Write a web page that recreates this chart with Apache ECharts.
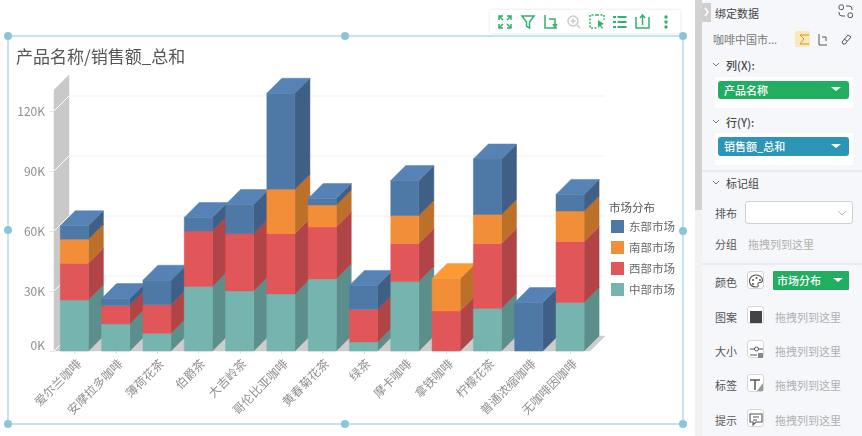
<!DOCTYPE html>
<html>
<head>
<meta charset="utf-8">
<title>产品名称/销售额_总和</title>
<script src="https://cdn.jsdelivr.net/npm/echarts@6/dist/echarts.min.js"></script>
<style>
  html, body { margin: 0; padding: 0; background: #fff; overflow: hidden; }
  body { width: 862px; height: 436px; position: relative; font-family: "Noto Sans CJK SC", "Noto Sans", sans-serif; }
  #chart { position: absolute; left: 0; top: 0; width: 700px; height: 436px; }
  #overlay { position: absolute; left: 0; top: 0; width: 862px; height: 436px; pointer-events: none; }
  #toolbar { position: absolute; left: 490px; top: 10px; width: 190px; height: 23px; background: #fff; box-shadow: 0 0 3px rgba(0,0,0,.12); }
  #scroll { position: absolute; left: 695px; top: 0; width: 7px; height: 436px; background: #f2f2f2; }
  #thumb { position: absolute; left: 0; top: 0; width: 7px; height: 210px; background: #d2d2d2; }
  #panel { position: absolute; left: 702px; top: 0; width: 160px; height: 436px; background: #f6f7fb; font-size: 11px; color: #555; }
  #panel .t { position: absolute; line-height: 14px; white-space: nowrap; }
  #panel .b { font-weight: 500; color: #444; }
  #panel .hint { color: #b0b0b0; }
  #panel .row { position: absolute; left: 13px; width: 138px; background: #fff; }
  #panel .pill { position: absolute; color: #fff; font-weight: 500; line-height: 18px; padding-left: 6px; box-sizing: border-box; border-radius: 3px; }
  #panel .sep { position: absolute; left: 0; width: 160px; height: 2px; background: #ebebef; }
  #panel .box { position: absolute; left: 45px; width: 17px; height: 18px; background: #fff; border: 1px solid #d5d5d5; border-radius: 3px; box-sizing: border-box; }
</style>
</head>
<body>
<div id="chart"></div>
<div id="toolbar"></div>
<div id="scroll"><div id="thumb"></div></div>
<div id="panel">
  <div class="t" style="left:13px;top:6px;color:#444">绑定数据</div>
  <div class="t" style="left:11px;top:32px;color:#777">咖啡中国市...</div>
  <div style="position:absolute;left:93px;top:31px;width:15px;height:16px;background:#fbe8b6;border-radius:2px"></div>
  <div class="t b" style="left:24px;top:58px">列(X):</div>
  <div class="row" style="top:77px;height:31px"></div>
  <div class="pill" style="left:16px;top:81px;width:131px;height:18px;background:#22ae60">产品名称</div>
  <div class="t b" style="left:24px;top:115px">行(Y):</div>
  <div class="row" style="top:133px;height:32px"></div>
  <div class="pill" style="left:16px;top:137px;width:131px;height:19px;background:#2b96b7">销售额_总和</div>
  <div class="sep" style="top:170px"></div>
  <div class="t" style="left:24px;top:176px;color:#444">标记组</div>
  <div class="t" style="left:13px;top:206px">排布</div>
  <div style="position:absolute;left:43px;top:201px;width:108px;height:23px;background:#fff;border:1px solid #d0d0d0;border-radius:3px;box-sizing:border-box"></div>
  <div class="t" style="left:13px;top:237px">分组</div>
  <div class="t hint" style="left:46px;top:237px">拖拽列到这里</div>
  <div class="sep" style="top:263px"></div>
  <div class="t" style="left:13px;top:275px">颜色</div>
  <div class="box" style="top:271px"></div>
  <div class="pill" style="left:71px;top:271px;width:76px;height:19px;background:#22ae60;border-radius:1px;padding-left:4px">市场分布</div>
  <div class="t" style="left:13px;top:310px">图案</div>
  <div class="box" style="top:306px"></div>
  <div class="t hint" style="left:73px;top:310px">拖拽列到这里</div>
  <div class="t" style="left:13px;top:344px">大小</div>
  <div class="box" style="top:340px"></div>
  <div class="t hint" style="left:73px;top:344px">拖拽列到这里</div>
  <div class="t" style="left:13px;top:378px">标签</div>
  <div class="box" style="top:374px"></div>
  <div class="t hint" style="left:73px;top:378px">拖拽列到这里</div>
  <div class="t" style="left:13px;top:413px">提示</div>
  <div class="box" style="top:409px"></div>
  <div class="t hint" style="left:73px;top:413px">拖拽列到这里</div>
</div>
<svg id="overlay" viewBox="0 0 862 436" fill="none">
  <!-- selection frame -->
  <rect x="8" y="36" width="675" height="388" stroke="#b4dbe6" stroke-width="1.5"/>
  <g fill="#8cc6d6">
    <circle cx="8" cy="36" r="4"/><circle cx="345" cy="36" r="4"/><circle cx="683" cy="36" r="4"/>
    <circle cx="8" cy="230" r="4"/><circle cx="683" cy="231" r="4"/>
    <circle cx="8" cy="424" r="4"/><circle cx="345" cy="424" r="4"/><circle cx="683" cy="424" r="4"/>
  </g>
  <!-- toolbar icons -->
  <g stroke="#2fb36b" stroke-width="1.5">
    <path d="M499 20v-4h4M511 20v-4h-4M499 24v4h4M511 24v4h-4M499 16l4 4M511 16l-4 4M499 28l4-4M511 28l-4-4"/>
    <path d="M522 16h12l-4.500 6v6l-3-2v-4z"/>
    <path d="M545 15v13h12M549 19h6v6M553 24l2 3 2-3"/>
    <g stroke="#ccc"><circle cx="573" cy="21" r="5"/><path d="M577 25l3 3M570.500 21h5M573 18.500v5"/></g>
    <path d="M597 15h-7v13h7" stroke-dasharray="2 1.500"/><path d="M597 15h7v5" stroke-dasharray="2 1.500"/>
    <path d="M598 20l6 4-3 1 2 3-1 1-2-3-2 2z" fill="#2fb36b" stroke="none"/>
    <path d="M613 17h3M617.500 17h9M613 22h3M617.500 22h9M613 27h3M617.500 27h9" stroke-width="1.800"/>
    <path d="M636 17v11h13v-11M642.500 25v-9M640 18l2.500-3 2.500 3"/>
    <g fill="#2fb36b" stroke="none"><circle cx="666" cy="17" r="1.700"/><circle cx="666" cy="22" r="1.700"/><circle cx="666" cy="27" r="1.700"/></g>
  </g>
  <!-- side panel icons -->
  <path d="M702 3h9v19h-9z" fill="#cfcfcf"/>
  <path d="M705 8l3 4-3 4" stroke="#fff" stroke-width="1.500"/>
  <g stroke="#555" stroke-width="1">
    <rect x="839" y="5" width="4.500" height="4.500" rx="1.500"/><rect x="848" y="13" width="4.500" height="4.500" rx="1.500"/>
    <path d="M846 6h3q3 0 3 3v1M845 16h-3q-3 0-3-3v-1"/>
    <path d="M819 34v11h8M822 37h4v4"/>
    <path d="M842 42l6-7 3 2-6 7h-2zM844 39l3 2"/>
    <path d="M713 63l3 3 3-3M713 120l3 3 3-3M713 181l3 3 3-3" stroke="#777"/>
    <path d="M838 211l4 4 4-4" stroke="#bbb"/>
  </g>
  <path d="M809 35h-9l4 4-4 5h9" stroke="#c69a2a" stroke-width="1"/>
  <g fill="#fff">
    <path d="M831 87h10l-5 4z"/><path d="M831 144h10l-5 4z"/><path d="M833 278h10l-5 4z"/>
  </g>
  <path d="M756 275c-4 0-6.500 3-6.500 6 0 4 3 6 7 6 2 0 2-1.500 1.500-2.500-.5-1.500.5-2 2-2 2 0 2.500-1.500 2.500-2.500 0-3-3-5-6.500-5z" stroke="#555" stroke-width="1.100"/>
  <g fill="#555"><circle cx="753" cy="280" r="1"/><circle cx="756.500" cy="278" r="1"/><circle cx="760" cy="280" r="1"/><circle cx="753" cy="284" r="1"/></g>
  <rect x="750" y="311" width="12" height="12" fill="#444"/>
  <path d="M750 349h5M758 349h5M750 355h7" stroke="#555"/><circle cx="756.500" cy="349" r="2" stroke="#555"/><path d="M758 358v-5h5v5z" fill="#888"/>
  <path d="M750 380h10M755 380v10" stroke="#555" stroke-width="1.500"/><path d="M763 383v8h-6z" fill="#999"/>
  <path d="M750 414h12v8h-6l-3 3v-3h-3zM753 417h6M753 420h4" stroke="#555" stroke-width="1.100"/>
</svg>

<script>
var categories = ["爱尔兰咖啡", "安摩拉多咖啡", "薄荷花茶", "伯爵茶", "大吉岭茶", "哥伦比亚咖啡", "黄春菊花茶", "绿茶", "摩卡咖啡", "拿铁咖啡", "柠檬花茶", "普通浓缩咖啡", "无咖啡因咖啡"];

// sales per market, in order of stacking from the floor up
var central = [25500, 13500, 8800, 32200, 30000, 28500, 36000, 4500, 34700, 0, 21300, 0, 24200];
var west = [18400, 9200, 14300, 27800, 28700, 30200, 26000, 16300, 19100, 20000, 32500, 0, 30600];
var south = [12000, 0, 0, 0, 0, 22200, 11000, 0, 14000, 16200, 14500, 0, 15200];
var east = [6700, 3500, 12300, 6800, 14500, 48000, 3200, 12000, 17400, 0, 27700, 24200, 8300];

var yTicks = [0, 30000, 60000, 90000, 120000];
var yMax = 130500;
var legendNames = ["东部市场", "南部市场", "西部市场", "中部市场"];

var DEPTH = 15;
var BAR_RATIO = 0.68;

var stackDefs = [
  { name: "中部市场", values: central, front: "#76b5af", side: "#5c8f8b", top: "#84c0ba" },
  { name: "西部市场", values: west, front: "#e15759", side: "#b14447", top: "#ee6668" },
  { name: "南部市场", values: south, front: "#f28e37", side: "#bd7029", top: "#fd9a34" },
  { name: "东部市场", values: east, front: "#4e79a7", side: "#3f5f87", top: "#5682b5" }
];

function poly(points, color, z2) {
  return {
    type: "polygon",
    z2: z2,
    shape: { points: points },
    style: { fill: color, stroke: color, lineWidth: 0.5 }
  };
}

function renderFrame(params, api) {
  var cs = params.coordSys;
  var x0 = cs.x, x1 = cs.x + cs.width;
  var y0 = api.coord([0, 0])[1], yTop = api.coord([0, yMax])[1];
  var d = DEPTH;
  var children = [
    poly([[x0, y0], [x0 + d, y0 - d], [x0 + d, yTop - d], [x0, yTop]], "#c9c9c9", 1),
    poly([[x0, y0], [x0 + d, y0 - d], [x1 + d - 1, y0 - d], [x1 - 1, y0]], "#cdcdcd", 1)
  ];
  yTicks.forEach(function (v) {
    var y = api.coord([0, v])[1];
    children.push({ type: "line", z2: 2, shape: { x1: x0, y1: y, x2: x0 + d, y2: y - d }, style: { stroke: "#fff", lineWidth: 1 } });
    if (v > 0) {
      children.push({ type: "line", z2: 2, shape: { x1: x0 + d, y1: y - d, x2: x1 + d - 1, y2: y - d }, style: { stroke: "#f1f1f1", lineWidth: 1 } });
    }
  });
  return { type: "group", children: children };
}

function makeRender(def, level) {
  return function (params, api) {
    var i = api.value(0);
    var base = api.value(1), top = api.value(2);
    if (top <= base) return;
    var w = api.size([1, 0])[0] * BAR_RATIO;
    var cx = api.coord([i, 0])[0];
    var x = cx - w / 2 - 0.3;
    var yb = api.coord([i, base])[1], yt = api.coord([i, top])[1];
    var d = DEPTH;
    var z = i * 10 + level;
    var children = [
      poly([[x, yb], [x + w, yb], [x + w, yt], [x, yt]], def.front, z + 1),
      poly([[x + w, yb], [x + w + d, yb - d], [x + w + d, yt - d], [x + w, yt]], def.side, z)
    ];
    if (api.value(3)) {
      children.push(poly([[x, yt], [x + w, yt], [x + w + d, yt - d], [x + d, yt - d]], def.top, z + 1));
    }
    return { type: "group", children: children };
  };
}

// running totals so each segment sits on the one under it
var running = categories.map(function () { return 0; });
var series = [{
  type: "custom",
  name: "frame",
  z: 1,
  silent: true,
  renderItem: renderFrame,
  data: [[0, 0]],
  encode: { x: 0, y: 1 }
}];
stackDefs.forEach(function (def, level) {
  var rows = def.values.map(function (v, i) {
    var base = running[i];
    running[i] = base + v;
    var isTop = stackDefs.slice(level + 1).every(function (o) { return o.values[i] === 0; });
    return [i, base, base + v, isTop ? 1 : 0];
  });
  series.push({
    type: "custom",
    name: def.name,
    z: 2,
    itemStyle: { color: def.front },
    renderItem: makeRender(def, level),
    data: rows,
    encode: { x: 0, y: [1, 2] }
  });
});

var chart = echarts.init(document.getElementById("chart"), null, { renderer: "canvas" });
var font = '"Noto Sans CJK SC", "Noto Sans", sans-serif';
chart.setOption({
  animation: false,
  title: [
    { text: "产品名称/销售额_总和", left: 11, top: 43, textStyle: { fontFamily: font, fontSize: 17, fontWeight: "normal", color: "#555" } },
    { text: "市场分布", left: 604, top: 197, textStyle: { fontFamily: font, fontSize: 11.5, fontWeight: "normal", color: "#555" } }
  ],
  legend: {
    orient: "vertical",
    left: 606,
    top: 215,
    itemWidth: 13,
    itemHeight: 13,
    itemGap: 8,
    icon: "rect",
    selectedMode: false,
    data: legendNames,
    textStyle: { fontFamily: font, fontSize: 11.5, color: "#666" }
  },
  grid: { left: 54, top: 90, width: 537, height: 261 },
  xAxis: {
    type: "category",
    data: categories,
    axisLine: { show: false },
    axisTick: { show: true, alignWithLabel: true, length: 3, lineStyle: { color: "#e4e4e4" } },
    axisLabel: { interval: 0, rotate: 45, margin: 6, verticalAlign: "top", fontFamily: font, fontSize: 12, color: "#8f8f8f" }
  },
  yAxis: {
    type: "value",
    min: 0,
    max: yMax,
    axisLine: { show: false },
    splitLine: { show: false },
    axisTick: { show: true, length: 4, customValues: yTicks, lineStyle: { color: "#e4e4e4" } },
    axisLabel: {
      margin: 9,
      customValues: yTicks,
      verticalAlignMinLabel: "bottom",
      fontFamily: font,
      fontSize: 12,
      color: "#8f8f8f",
      formatter: function (v) { return v / 1000 + "K"; }
    }
  },
  series: series
});
</script>
</body>
</html>
